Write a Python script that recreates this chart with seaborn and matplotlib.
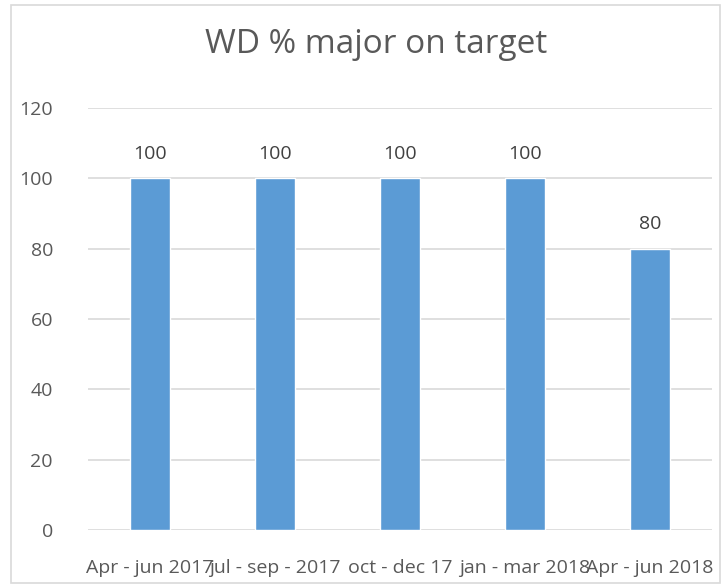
import matplotlib
matplotlib.use("Agg")
import matplotlib.pyplot as plt
import seaborn as sns
import pandas as pd
from matplotlib.patches import Rectangle

# Chart data
periods = ["Apr - jun 2017", "jul - sep - 2017", "oct - dec 17", "jan - mar 2018", "Apr - jun 2018"]
on_target = [100, 100, 100, 100, 80]
y_ticks = [0, 20, 40, 60, 80, 100, 120]

df = pd.DataFrame({"Period": periods, "Percent": on_target})

sns.set_theme(style="white")
plt.rcParams["font.family"] = ["Open Sans", "DejaVu Sans"]

fig = plt.figure(figsize=(7.24, 5.88), dpi=100)
ax = fig.add_axes([0.121, 0.0986, 0.863, 0.7177])

sns.barplot(data=df, x="Period", y="Percent", color="#5B9BD5", width=0.32,
            saturation=1, ax=ax, zorder=3)

# Data labels above bars
for i, v in enumerate(on_target):
    ax.text(i, v + 4.5, str(v), ha="center", va="bottom", fontsize=14, color="#404040")

ax.set_ylim(0, 120)
ax.set_yticks(y_ticks)
ax.yaxis.grid(True, color="#D9D9D9", linewidth=1.2, zorder=0)
ax.tick_params(axis="both", length=0, labelsize=14, labelcolor="#595959")
ax.tick_params(axis="y", pad=25)
ax.tick_params(axis="x", pad=21)
ax.set_xlabel("")
ax.set_ylabel("")
for s in ax.spines.values():
    s.set_visible(False)

fig.text(0.52, 0.925, "WD % major on target", ha="center", va="center",
         fontsize=24, color="#595959")

# Chart area border
fig.patches.append(Rectangle((11 / 724, 5 / 588), 709 / 724, 578 / 588,
                             transform=fig.transFigure, fill=False,
                             edgecolor="#D9D9D9", linewidth=1.2))

fig.savefig("out.png", dpi=100)
